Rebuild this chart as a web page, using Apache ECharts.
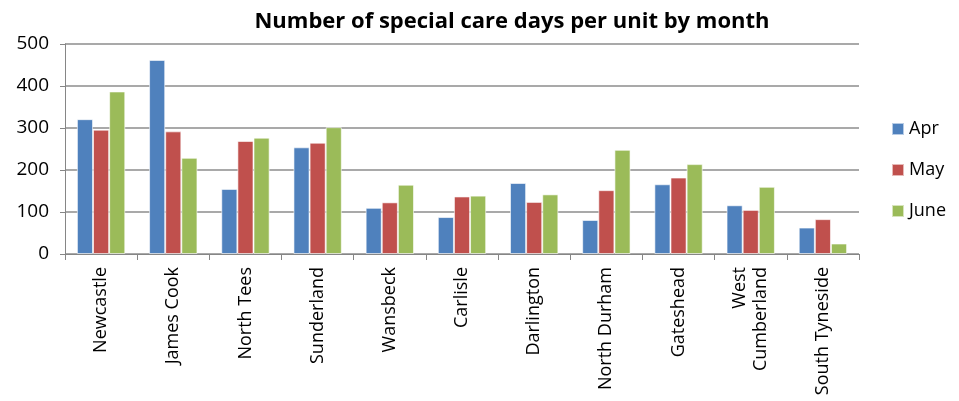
<!DOCTYPE html>
<html>
<head>
<meta charset="utf-8">
<script src="https://cdn.jsdelivr.net/npm/echarts@6/dist/echarts.min.js"></script>
<style>
  html, body { margin: 0; padding: 0; background: #fff; }
  #main { width: 959px; height: 401px; }
</style>
</head>
<body>
<div id="main"></div>
<script>
// units along the x axis
var units = ['Newcastle', 'James Cook', 'North Tees', 'Sunderland', 'Wansbeck', 'Carlisle',
  'Darlington', 'North Durham', 'Gateshead', 'West\nCumberland', 'South Tyneside'];

// special care days per month
var apr = [321, 462, 155, 254, 110, 88, 169, 81, 166, 116, 63];
var may = [296, 292, 269, 265, 123, 137, 124, 152, 182, 105, 83];
var june = [387, 229, 277, 302, 165, 139, 142, 248, 214, 160, 25];

var colors = ['#4F81BD', '#C0504D', '#9BBB59'];

var myChart = echarts.init(document.getElementById('main'));

function bar(name, data, i) {
  return {
    name: name,
    type: 'bar',
    data: data,
    barGap: '0%',
    barCategoryGap: '33%',
    itemStyle: { color: colors[i], borderColor: 'rgba(255,255,255,0.6)', borderWidth: 1 }
  };
}

myChart.setOption({
  animation: false,
  title: {
    text: 'Number of special care days per unit by month',
    left: 507,
    textAlign: 'center',
    top: 6,
    textStyle: { fontFamily: 'Open Sans', fontWeight: 'bold', fontSize: 22, color: '#000' }
  },
  legend: {
    orient: 'vertical',
    left: 886,
    top: 115,
    itemWidth: 12,
    itemHeight: 12,
    itemGap: 23,
    icon: 'rect',
    textStyle: { fontFamily: 'Open Sans', fontSize: 18, color: '#000' },
    data: ['Apr', 'May', 'June']
  },
  grid: { left: 65, right: 100, top: 44, bottom: 147 },
  xAxis: {
    type: 'category',
    data: units,
    axisLine: { lineStyle: { color: '#868686', width: 1 } },
    axisTick: { show: true, length: 6, lineStyle: { color: '#868686' } },
    axisLabel: {
      rotate: 90,
      interval: 0,
      margin: 13,
      fontFamily: 'Open Sans',
      fontSize: 18,
      lineHeight: 21,
      color: '#000'
    }
  },
  yAxis: {
    type: 'value',
    min: 0,
    max: 500,
    interval: 100,
    axisLine: { show: true, lineStyle: { color: '#868686' } },
    axisTick: { show: true, length: 5, lineStyle: { color: '#868686' } },
    splitLine: { lineStyle: { color: '#8c8c8c', width: 1.5 } },
    axisLabel: { fontFamily: 'Open Sans', fontSize: 19, color: '#000', margin: 16 }
  },
  series: [bar('Apr', apr, 0), bar('May', may, 1), bar('June', june, 2)]
});
</script>
</body>
</html>
